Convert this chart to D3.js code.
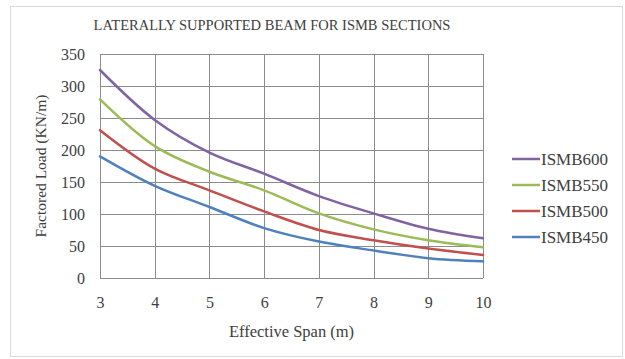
<!DOCTYPE html>
<html>
<head>
<meta charset="utf-8">
<script src="https://cdn.jsdelivr.net/npm/d3@7"></script>
<style>
  body { margin: 0; background: #fff; }
  svg text { font-family: "Liberation Serif", "Times New Roman", serif; fill: #404040; }
</style>
</head>
<body>
<div id="plot"></div>
<script>
// Chart data
const spans = [3, 4, 5, 6, 7, 8, 9, 10];
const seriesNames = ["ISMB600", "ISMB550", "ISMB500", "ISMB450"];
const ismb600 = [325, 247, 196, 163, 128, 101, 77, 62];
const ismb550 = [279, 206, 166, 137, 101, 76, 59, 48];
const ismb500 = [231, 171, 137, 104, 75, 59, 46, 36];
const ismb450 = [190, 144, 111, 78, 57, 43, 31, 26];
const yTicks = [0, 50, 100, 150, 200, 250, 300, 350];
const colors = ["#8064A2", "#9BBB59", "#C0504D", "#4F81BD"];

const W = 625, H = 359;
const margin = { top: 54, right: 142, bottom: 81, left: 100 },
      width = W - margin.left - margin.right,
      height = H - margin.top - margin.bottom;

const root = d3.select("#plot")
    .append("svg")
    .attr("width", W)
    .attr("height", H);

// outer chart frame
root.append("rect")
    .attr("x", 10.5).attr("y", 6.5)
    .attr("width", 612).attr("height", 350)
    .attr("fill", "#fff")
    .attr("stroke", "#d9d9d9");

root.append("text")
    .attr("x", 272)
    .attr("y", 30)
    .attr("text-anchor", "middle")
    .attr("font-size", "14.5px")
    .text("LATERALLY SUPPORTED BEAM FOR ISMB SECTIONS");

const svg = root.append("g")
    .attr("transform", `translate(${margin.left},${margin.top})`);

const x = d3.scaleLinear().domain([3, 10]).range([0, width]);
const y = d3.scaleLinear().domain([0, 350]).range([height, 0]);

// gridlines
svg.append("g")
    .selectAll("line.h")
    .data(yTicks)
    .join("line")
    .attr("x1", 0).attr("x2", width)
    .attr("y1", d => Math.round(y(d)) + 0.5)
    .attr("y2", d => Math.round(y(d)) + 0.5)
    .attr("stroke", "#8c8c8c");

svg.append("g")
    .selectAll("line.v")
    .data(spans)
    .join("line")
    .attr("y1", 0).attr("y2", height)
    .attr("x1", d => Math.round(x(d)) + 0.5)
    .attr("x2", d => Math.round(x(d)) + 0.5)
    .attr("stroke", "#8c8c8c");

// axes labels
const xAxis = svg.append("g")
    .attr("transform", `translate(0,${height})`)
    .call(d3.axisBottom(x).tickValues(spans).tickFormat(d3.format("d")).tickSize(0).tickPadding(19));
xAxis.select(".domain").remove();
xAxis.selectAll("text").attr("font-size", "16px").attr("fill", "#404040")
    .attr("font-family", "Liberation Serif, serif");

const yAxis = svg.append("g")
    .call(d3.axisLeft(y).tickValues(yTicks).tickSize(0).tickPadding(15));
yAxis.select(".domain").remove();
yAxis.selectAll("text").attr("font-size", "16px").attr("fill", "#404040")
    .attr("font-family", "Liberation Serif, serif");

root.append("text")
    .attr("x", margin.left + width / 2)
    .attr("y", 337)
    .attr("text-anchor", "middle")
    .attr("font-size", "16.5px")
    .text("Effective Span (m)");

root.append("text")
    .attr("transform", `translate(46,${margin.top + height / 2}) rotate(-90)`)
    .attr("text-anchor", "middle")
    .attr("font-size", "15.5px")
    .text("Factored Load (KN/m)");

// series lines
const allSeries = [ismb600, ismb550, ismb500, ismb450];
const line = d3.line()
    .x((d, i) => x(spans[i]))
    .y(d => y(d))
    .curve(d3.curveCatmullRom.alpha(0.5));

svg.selectAll("path.series")
    .data(allSeries)
    .join("path")
    .attr("class", "series")
    .attr("d", d => line(d))
    .attr("fill", "none")
    .attr("stroke", (d, i) => colors[i])
    .attr("stroke-width", 2.5)
    .attr("stroke-linecap", "round");

// legend
const legend = root.append("g")
    .selectAll("g")
    .data(seriesNames)
    .join("g")
    .attr("transform", (d, i) => `translate(512,${159 + i * 26})`);

legend.append("line")
    .attr("x1", 0).attr("x2", 28)
    .attr("stroke", (d, i) => colors[i])
    .attr("stroke-width", 2.5);

legend.append("text")
    .attr("x", 29)
    .attr("y", 6)
    .attr("font-size", "17px")
    .text(d => d);
</script>
</body>
</html>
